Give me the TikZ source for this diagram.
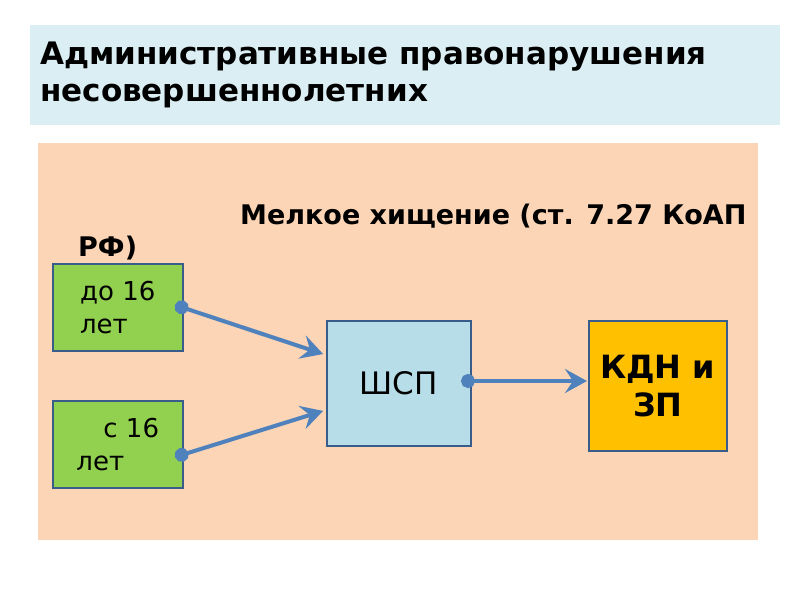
\documentclass[tikz,border=0pt]{standalone}
\usepackage{fontspec}
\setmainfont{DejaVu Sans}
\usetikzlibrary{arrows.meta}
\definecolor{band}{HTML}{DAEEF3}
\definecolor{peach}{HTML}{FBD5B5}
\definecolor{grn}{HTML}{92D050}
\definecolor{lb}{HTML}{B7DDE8}
\definecolor{gold}{HTML}{FFC000}
\definecolor{arr}{HTML}{4F81BD}
\definecolor{edge}{HTML}{385D8A}
\begin{document}
\begin{tikzpicture}[x=1pt,y=-1pt,
  box/.style={draw=edge,line width=1.5pt,anchor=north west,inner sep=0pt},
  conn/.style={arr,line width=4pt,{Circle[length=14pt]}-{Stealth[length=22pt,width=24pt,inset=8pt,sep=3pt]}}]
\useasboundingbox (0,0) rectangle (800,600);
\fill[white] (0,0) rectangle (800,600);
\fill[band] (30,25) rectangle (780,125);
\node[anchor=north west,align=left,font=\bfseries\fontsize{31}{37}\selectfont,inner sep=0pt] (title) at (40,42) {Административные правонарушения\\несовершеннолетних};
\fill[peach] (38,143) rectangle (758,540);
\node[anchor=west,font=\bfseries\fontsize{27}{30}\selectfont,inner sep=0pt] (t1) at (240,216) {Мелкое хищение (ст. 7.27 КоАП};
\node[anchor=west,font=\bfseries\fontsize{27}{30}\selectfont,inner sep=0pt] (t2) at (78,248) {РФ)};
\node[box,fill=grn,minimum width=130pt,minimum height=87pt,align=left,font=\fontsize{26}{33}\selectfont] (a) at (52,263) {до 16\\лет};
\node[box,fill=grn,minimum width=130pt,minimum height=87pt,align=left,font=\fontsize{26}{33}\selectfont] (b) at (52,400) {\hspace*{27pt}с 16\\лет};
\node[box,fill=lb,minimum width=144pt,minimum height=125pt,font=\fontsize{31}{36}\selectfont] (s) at (326,320) {ШСП};
\node[box,fill=gold,minimum width=138pt,minimum height=130pt,align=center,font=\bfseries\fontsize{32}{38}\selectfont] (k) at (588,320) {КДН и\\ЗП};
\coordinate (a0) at (175,305);
\coordinate (a1) at (326,355);
\coordinate (b0) at (175,457);
\coordinate (b1) at (326,410);
\coordinate (s0) at (461,381);
\coordinate (k1) at (590,381);
\draw[conn] (a0) -- (a1);
\draw[conn] (b0) -- (b1);
\draw[conn] (s0) -- (k1);
\end{tikzpicture}
\end{document}
